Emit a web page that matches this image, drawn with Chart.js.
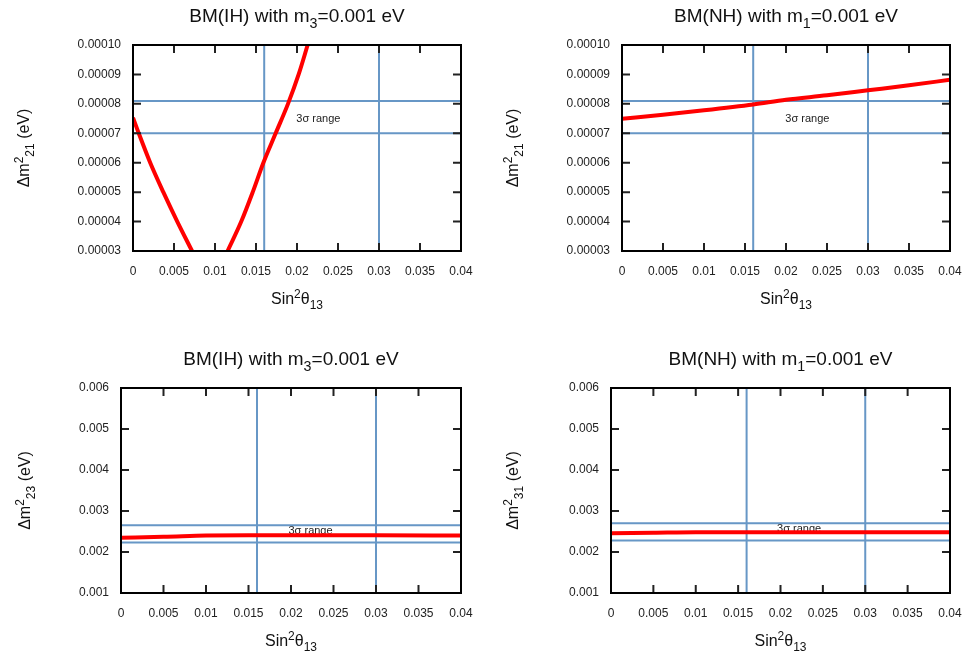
<!DOCTYPE html>
<html>
<head>
<meta charset="utf-8">
<title>Mass-squared differences vs sin²θ13</title>
<script src="https://cdn.jsdelivr.net/npm/chart.js@4"></script>
<style>
  body { margin: 0; background: #fff; }
  #page { position: relative; width: 966px; height: 656px; }
  .panel { position: absolute; width: 483px; height: 328px; }
</style>
</head>
<body>
<div id="page">
  <div class="panel" style="left:0;top:0"><canvas id="ih21"></canvas></div>
  <div class="panel" style="left:483px;top:0"><canvas id="nh21"></canvas></div>
  <div class="panel" style="left:0;top:328px"><canvas id="ih23"></canvas></div>
  <div class="panel" style="left:483px;top:328px"><canvas id="nh31"></canvas></div>
</div>
<script>
// x axis (shared by all four panels)
const sinTheta13Ticks = [0, 0.005, 0.01, 0.015, 0.02, 0.025, 0.03, 0.035, 0.04];
const sinTheta13Labels = ["0", "0.005", "0.01", "0.015", "0.02", "0.025", "0.03", "0.035", "0.04"];

// y axes
const dm21Ticks = [0.00003, 0.00004, 0.00005, 0.00006, 0.00007, 0.00008, 0.00009, 0.0001];
const dm21Labels = ["0.00003", "0.00004", "0.00005", "0.00006", "0.00007", "0.00008", "0.00009", "0.00010"];
const dm3xTicks = [0.001, 0.002, 0.003, 0.004, 0.005, 0.006];
const dm3xLabels = ["0.001", "0.002", "0.003", "0.004", "0.005", "0.006"];

// 3 sigma bounds
const sigmaTheta13 = [0.016, 0.03];
const sigmaDm21 = [0.00007, 0.000081];
const sigmaDm23 = [0.00223, 0.00265];
const sigmaDm31 = [0.00228, 0.0027];

// BM(IH), m3 = 0.001 eV : dm^2_21 (curve leaves the window between the branches)
const ihDm21X = [0, 0.0007, 0.0021, 0.0037, 0.0054, 0.0072, 0.0093, 0.01154, 0.0132, 0.0146, 0.0159, 0.0174, 0.0189, 0.0202, 0.0213];
const ihDm21Y = [0.0000753, 0.00007, 0.00006, 0.00005, 0.00004, 0.00003, null, 0.00003, 0.00004, 0.00005, 0.00006, 0.00007, 0.00008, 0.00009, 0.0001];

// BM(NH), m1 = 0.001 eV : dm^2_21
const nhDm21X = [0, 0.005, 0.01, 0.016, 0.02, 0.025, 0.03, 0.035, 0.04];
const nhDm21Y = [0.0000749, 0.0000763, 0.0000778, 0.0000798, 0.0000814, 0.0000829, 0.0000846, 0.0000863, 0.0000882];

// BM(IH), m3 = 0.001 eV : dm^2_23
const ihDm23X = [0, 0.005, 0.01, 0.015, 0.02, 0.03, 0.04];
const ihDm23Y = [0.00235, 0.00237, 0.0024, 0.00241, 0.00241, 0.00241, 0.0024];

// BM(NH), m1 = 0.001 eV : dm^2_31
const nhDm31X = [0, 0.005, 0.01, 0.02, 0.03, 0.04];
const nhDm31Y = [0.00246, 0.00247, 0.00248, 0.00248, 0.00248, 0.00248];

const FONT = '"Liberation Sans", Arial, Helvetica, sans-serif';
const xTitle = [["Sin", ""], ["2", "sup"], ["θ", ""], ["13", "sub"]];

const panels = [
  { id: "ih21", xs: ihDm21X, ys: ihDm21Y, sigma: sigmaDm21, yTicks: dm21Ticks, yLabels: dm21Labels,
    yMin: 0.00003, yMax: 0.0001, note: [0.0226, 0.000075],
    title: [["BM(IH) with m", ""], ["3", "sub"], ["=0.001 eV", ""]],
    yTitle: [["Δm", ""], ["2", "sup"], ["21", "sub"], [" (eV)", ""]],
    left: 133, top: 45, right: 22, bottom: 77, yTitleX: 29 },
  { id: "nh21", xs: nhDm21X, ys: nhDm21Y, sigma: sigmaDm21, yTicks: dm21Ticks, yLabels: dm21Labels,
    yMin: 0.00003, yMax: 0.0001, note: [0.0226, 0.000075],
    title: [["BM(NH) with m", ""], ["1", "sub"], ["=0.001 eV", ""]],
    yTitle: [["Δm", ""], ["2", "sup"], ["21", "sub"], [" (eV)", ""]],
    left: 139, top: 45, right: 16, bottom: 77, yTitleX: 35 },
  { id: "ih23", xs: ihDm23X, ys: ihDm23Y, sigma: sigmaDm23, yTicks: dm3xTicks, yLabels: dm3xLabels,
    yMin: 0.001, yMax: 0.006, note: [0.0223, 0.00252],
    title: [["BM(IH) with m", ""], ["3", "sub"], ["=0.001 eV", ""]],
    yTitle: [["Δm", ""], ["2", "sup"], ["23", "sub"], [" (eV)", ""]],
    left: 121, top: 60, right: 22, bottom: 63, yTitleX: 30 },
  { id: "nh31", xs: nhDm31X, ys: nhDm31Y, sigma: sigmaDm31, yTicks: dm3xTicks, yLabels: dm3xLabels,
    yMin: 0.001, yMax: 0.006, note: [0.0222, 0.00256],
    title: [["BM(NH) with m", ""], ["1", "sub"], ["=0.001 eV", ""]],
    yTitle: [["Δm", ""], ["2", "sup"], ["31", "sub"], [" (eV)", ""]],
    left: 128, top: 60, right: 16, bottom: 63, yTitleX: 35 }
];

// draws text with super/subscripts, centred on x
function drawRich(ctx, parts, x, y, size) {
  const sizeOf = k => (k ? size * 0.75 : size);
  const widths = parts.map(([t, k]) => {
    ctx.font = sizeOf(k) + "px " + FONT;
    return ctx.measureText(t).width;
  });
  let cx = x - widths.reduce((a, b) => a + b, 0) / 2;
  ctx.textAlign = "left";
  ctx.textBaseline = "alphabetic";
  parts.forEach(([t, k], i) => {
    ctx.font = sizeOf(k) + "px " + FONT;
    const dy = k === "sup" ? -size * 0.4 : k === "sub" ? size * 0.3 : 0;
    ctx.fillText(t, cx, y + dy);
    cx += widths[i];
  });
}

// sigma lines, frame, inward ticks and titles
function decor(p) {
  return {
    id: "decor",
    beforeDatasetsDraw(chart) {
      const { ctx, chartArea: a, scales: { x, y } } = chart;
      ctx.save();
      ctx.strokeStyle = "#6797c6";
      ctx.lineWidth = 2;
      ctx.beginPath();
      sigmaTheta13.forEach(v => {
        const px = x.getPixelForValue(v);
        ctx.moveTo(px, a.top);
        ctx.lineTo(px, a.bottom);
      });
      p.sigma.forEach(v => {
        const py = y.getPixelForValue(v);
        ctx.moveTo(a.left, py);
        ctx.lineTo(a.right, py);
      });
      ctx.stroke();
      ctx.fillStyle = "#222";
      ctx.font = "11px " + FONT;
      ctx.textAlign = "center";
      ctx.textBaseline = "middle";
      ctx.fillText("3σ range", x.getPixelForValue(p.note[0]), y.getPixelForValue(p.note[1]));
      ctx.restore();
    },
    afterDatasetsDraw(chart) {
      const { ctx, chartArea: a, scales: { x, y } } = chart;
      ctx.save();
      ctx.strokeStyle = "#222";
      ctx.lineWidth = 2;
      ctx.beginPath();
      x.ticks.forEach(t => {
        const px = x.getPixelForValue(t.value);
        ctx.moveTo(px, a.bottom);
        ctx.lineTo(px, a.bottom - 8);
        ctx.moveTo(px, a.top);
        ctx.lineTo(px, a.top + 8);
      });
      y.ticks.forEach(t => {
        const py = y.getPixelForValue(t.value);
        ctx.moveTo(a.left, py);
        ctx.lineTo(a.left + 8, py);
        ctx.moveTo(a.right, py);
        ctx.lineTo(a.right - 8, py);
      });
      ctx.stroke();
      ctx.strokeStyle = "#000";
      ctx.strokeRect(a.left, a.top, a.right - a.left, a.bottom - a.top);
      ctx.restore();
    },
    afterDraw(chart) {
      const { ctx, chartArea: a } = chart;
      const cx = (a.left + a.right) / 2;
      ctx.save();
      ctx.fillStyle = "#111";
      drawRich(ctx, p.title, cx, a.top - 23, 19);
      drawRich(ctx, xTitle, cx, a.bottom + 53, 16);
      ctx.translate(p.yTitleX, (a.top + a.bottom) / 2);
      ctx.rotate(-Math.PI / 2);
      drawRich(ctx, p.yTitle, 0, 0, 16);
      ctx.restore();
    }
  };
}

panels.forEach(p => {
  new Chart(document.getElementById(p.id), {
    type: "line",
    data: {
      datasets: [{
        data: p.xs.map((v, i) => ({ x: v, y: p.ys[i] })),
        borderColor: "#ff0000",
        borderWidth: 4,
        pointRadius: 0,
        cubicInterpolationMode: "monotone",
        spanGaps: false,
        clip: 0
      }]
    },
    options: {
      responsive: true,
      maintainAspectRatio: false,
      animation: false,
      layout: { padding: { left: 0, top: p.top, right: p.right, bottom: 0 } },
      plugins: { legend: { display: false }, tooltip: { enabled: false }, title: { display: false } },
      scales: {
        x: {
          type: "linear",
          min: 0,
          max: 0.04,
          grid: { display: false, drawTicks: false },
          border: { display: false },
          afterBuildTicks: s => { s.ticks = sinTheta13Ticks.map(v => ({ value: v })); },
          afterFit: s => {
            s.height = p.bottom;
            // layout padding already leaves room for the end labels
            s.paddingLeft = 0;
            s.paddingRight = 0;
          },
          ticks: {
            autoSkip: false,
            maxRotation: 0,
            padding: 13,
            color: "#222",
            font: { size: 12, family: FONT },
            callback: (v, i) => sinTheta13Labels[i]
          }
        },
        y: {
          type: "linear",
          min: p.yMin,
          max: p.yMax,
          grid: { display: false, drawTicks: false },
          border: { display: false },
          afterBuildTicks: s => { s.ticks = p.yTicks.map(v => ({ value: v })); },
          afterFit: s => {
            s.width = p.left;
            s.paddingTop = 0;
            s.paddingBottom = 0;
          },
          ticks: {
            padding: 12,
            color: "#222",
            font: { size: 12, family: FONT },
            callback: (v, i) => p.yLabels[i]
          }
        }
      }
    },
    plugins: [decor(p)]
  });
});
</script>
</body>
</html>
